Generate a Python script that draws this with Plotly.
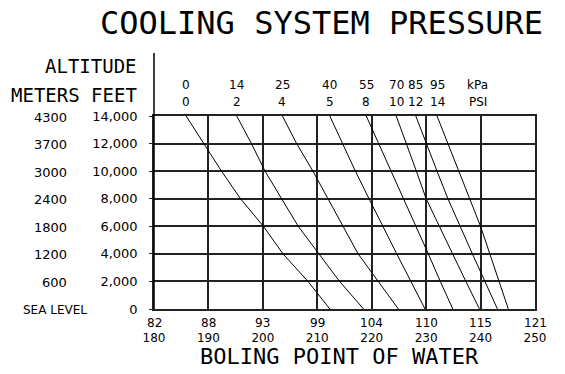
import plotly.graph_objects as go

# ---- data ----
altitude_ft = [14000, 12000, 10000, 8000, 6000, 4000, 2000, 0]
feet_labels = ["14,000", "12,000", "10,000", "8,000", "6,000", "4,000", "2,000", "0"]
meter_labels = ["4300", "3700", "3000", "2400", "1800", "1200", "600"]

temp_f = [180, 190, 200, 210, 220, 230, 240, 250]
temp_c = ["82", "88", "93", "99", "104", "110", "115", "121"]

psi_values = ["0", "2", "4", "5", "8", "10", "12", "14"]
kpa_values = ["0", "14", "25", "40", "55", "70", "85", "95"]

# boiling point (deg F) at each altitude, per system pressure
bp_psi0 = [185.9, 189.2, 192.4, 195.9, 200.1, 203.7, 208.3, 212.3]
bp_psi2 = [195.2, 197.9, 200.4, 203.4, 206.5, 210.3, 214.1, 218.5]
bp_psi4 = [203.6, 206.2, 209.2, 212.0, 214.8, 217.5, 221.2, 224.9]
bp_psi5 = [212.3, 214.6, 217.0, 219.5, 222.0, 224.6, 227.2, 229.8]
bp_psi8 = [219.0, 221.3, 223.6, 225.9, 228.2, 230.4, 232.6, 234.9]
bp_psi10 = [224.5, 226.4, 228.2, 230.0, 232.4, 234.8, 237.3, 239.8]
bp_psi12 = [228.1, 230.0, 232.0, 234.0, 236.2, 238.5, 240.8, 243.1]
bp_psi14 = [232.0, 234.0, 236.0, 238.0, 240.0, 241.7, 243.4, 245.1]
series = [bp_psi0, bp_psi2, bp_psi4, bp_psi5, bp_psi8, bp_psi10, bp_psi12, bp_psi14]

units_x = 239.5  # position of "kPa / PSI" header

# ---- figure ----
# page body has an 8px margin, so the figure is drawn 8px in from the corner
OFF = 8
W, H = 565 - OFF, 374 - OFF
L, R, T, B = 154 - OFF, 30, 116 - OFF, 65
PW, PH = W - L - R, H - T - B
X0, Y1 = 154, 309  # plot-area left / bottom in page pixels


def px(xp):
    return (xp - X0) / PW


def py(yp):
    return (Y1 - yp) / PH


SMALL = "DejaVu Sans"
BIG = "DejaVu Sans Mono"


def font(size, fam=SMALL):
    return dict(family=fam, size=size, color="black")


fig = go.Figure()
for s in series:
    fig.add_trace(go.Scatter(x=s, y=altitude_ft, mode="lines",
                             line=dict(color="black", width=1),
                             hoverinfo="skip", showlegend=False))

ann = []


def note(x, y, text, f, xref="paper", yref="paper", xanchor="center", yshift=0):
    ann.append(dict(x=x, y=y, xref=xref, yref=yref, text=text, showarrow=False,
                    xanchor=xanchor, yanchor="middle", yshift=yshift, font=f))


# pressure header labels over each line's top end
for s, k, p in zip(series, kpa_values, psi_values):
    note(s[0], py(85), k, font(12), xref="x")
    note(s[0], py(102), p, font(12), xref="x")
note(units_x, py(85), "kPa", font(12), xref="x")
note(units_x, py(102), "PSI", font(12), xref="x")

# Celsius row above Fahrenheit tick labels
for f, c in zip(temp_f, temp_c):
    note(f, py(323), c, font(12), xref="x")

# meters column
for a, m in zip(altitude_ft[:-1], meter_labels):
    note(px(69), a, m, font(13), yref="y", xanchor="right", yshift=-1)
note(px(55), altitude_ft[-1], "SEA LEVEL", font(12), yref="y", yshift=-1)

# headings
note(px(321), py(23), "COOLING SYSTEM PRESSURE", font(32, BIG))
note(px(139), py(66.5), "ALTITUDE", font(19, BIG), xanchor="right")
note(px(139), py(95), "METERS FEET", font(19, BIG), xanchor="right")
note(px(339), py(356), "BOLING POINT OF WATER", font(22, BIG))

fig.update_layout(
    width=W, height=H,
    margin=dict(l=L, r=R, t=T, b=B, pad=0),
    paper_bgcolor="white", plot_bgcolor="white",
    annotations=ann,
    shapes=[dict(type="line", xref="paper", yref="paper", x0=0, x1=0,
                 y0=0, y1=py(53), line=dict(color="black", width=1.5))],
    xaxis=dict(range=[180, 250], tickvals=temp_f, ticktext=[str(v) for v in temp_f],
               showgrid=True, gridcolor="#222", gridwidth=1.5,
               showline=True, mirror=True, linecolor="#222", linewidth=1.5,
               ticks="", ticklabelstandoff=17, zeroline=False,
               tickfont=font(12)),
    yaxis=dict(range=[0, 14000], tickvals=altitude_ft, ticktext=feet_labels,
               showgrid=True, gridcolor="#222", gridwidth=1.5,
               showline=True, mirror=True, linecolor="#222", linewidth=1.5,
               ticks="outside", ticklen=3, tickcolor="#222",
               ticklabelstandoff=9, zeroline=False,
               tickfont=font(13)),
)

fig.write_html("out.html")
